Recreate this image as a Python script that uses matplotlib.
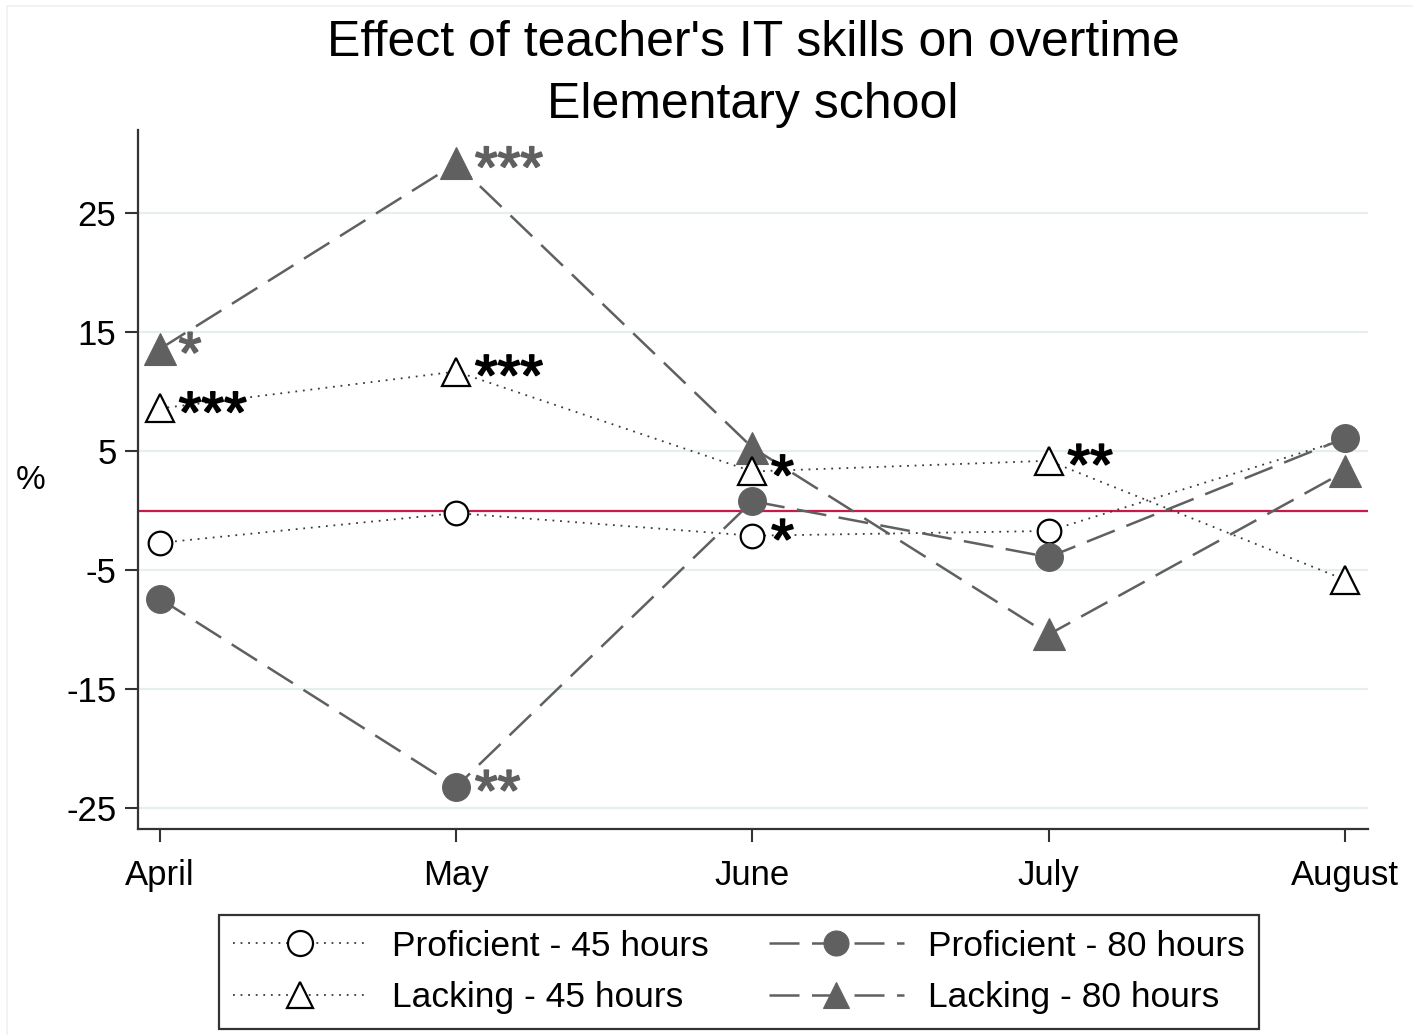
import matplotlib
matplotlib.use("Agg")
import matplotlib.pyplot as plt
from matplotlib.lines import Line2D
import matplotlib.patheffects as pe

plt.rcParams['font.family'] = ['Liberation Sans', 'DejaVu Sans']

months = ["April", "May", "June", "July", "August"]
prof_45 = [-2.7, -0.2, -2.1, -1.7, 6.0]
lack_45 = [8.6, 11.7, 3.3, 4.2, -5.8]
prof_80 = [-7.4, -23.2, 0.8, -3.9, 6.1]
lack_80 = [13.6, 29.2, 5.3, -10.4, 3.3]

stars_prof_45 = ["", "", "*", "", ""]
stars_lack_45 = ["***", "***", "*", "**", ""]
stars_prof_80 = ["", "**", "", "", ""]
stars_lack_80 = ["*", "***", "", "", ""]

yticks = [25, 15, 5, -5, -15, -25]
title_line1 = "Effect of teacher's IT skills on overtime"
title_line2 = "Elementary school"

GRAY = "#606060"
W, H = 1413, 1035
fig = plt.figure(figsize=(W / 100, H / 100), dpi=100)

# faint outer graph-region border
fig.add_artist(Line2D([7 / W, 7 / W], [0, 1 - 6 / H], transform=fig.transFigure,
                      color="#f0f0f0", lw=1.2))
fig.add_artist(Line2D([7 / W, 1], [1 - 6 / H, 1 - 6 / H], transform=fig.transFigure,
                      color="#f0f0f0", lw=1.2))

ax = fig.add_axes([138 / W, 1 - 829 / H, (1368 - 138) / W, (829 - 130) / H])

x = list(range(len(months)))

for yv in yticks:
    ax.axhline(yv, color="#e6eef0", lw=1.6, zorder=0)
ax.axhline(0, color="#c8194b", lw=1.6, zorder=1)

dot = (0, (1, 3.2))
dash = (0, (12, 5))
l1, = ax.plot(x, prof_45, linestyle=dot, color="#3a3a3a", lw=1.3, marker="o",
              ms=17, mfc="white", mec="black", mew=1.6, zorder=3,
              label="Proficient - 45 hours")
l4, = ax.plot(x, lack_80, linestyle=dash, color=GRAY, lw=1.8, marker="^",
              ms=23, mfc=GRAY, mec=GRAY, mew=0.8, zorder=4,
              label="Lacking - 80 hours")
l3, = ax.plot(x, prof_80, linestyle=dash, color=GRAY, lw=1.8, marker="o",
              ms=20, mfc=GRAY, mec=GRAY, mew=0.8, zorder=5,
              label="Proficient - 80 hours")
l2, = ax.plot(x, lack_45, linestyle=dot, color="#3a3a3a", lw=1.3, marker="^",
              ms=20, mfc="white", mec="black", mew=1.6, zorder=6,
              label="Lacking - 45 hours")

def label_stars(vals, stars, color):
    for xi, (v, s) in enumerate(zip(vals, stars)):
        if s:
            ax.annotate(s, (xi, v), xytext=(13.5, -17), textcoords="offset points",
                        ha="left", va="baseline", fontsize=42,
                        color=color, zorder=7,
                        path_effects=[pe.withStroke(linewidth=1.3, foreground=color)])

label_stars(prof_45, stars_prof_45, "black")
label_stars(lack_45, stars_lack_45, "black")
label_stars(prof_80, stars_prof_80, GRAY)
label_stars(lack_80, stars_lack_80, GRAY)

ax.set_xlim(-0.074, 4.078)
ax.set_ylim(-26.75, 32.0)
ax.set_xticks(x)
ax.set_xticklabels(months)
ax.set_yticks(yticks)
ax.set_yticklabels([str(v) for v in yticks])
for s in ["top", "right"]:
    ax.spines[s].set_visible(False)
for s in ["left", "bottom"]:
    ax.spines[s].set_color("#333333")
    ax.spines[s].set_linewidth(1.6)
ax.tick_params(axis="both", labelsize=25, length=9.5, width=1.5, color="#333333")
ax.tick_params(axis="y", pad=6)
ax.tick_params(axis="x", pad=12)
ax.set_facecolor("white")

fig.text(31 / W, 1 - 481 / H, "%", fontsize=24, ha="center", va="center")
fig.text(753 / W, 1 - 56 / H, title_line1, fontsize=36, ha="center", va="baseline")
fig.text(753 / W, 1 - 118 / H, title_line2, fontsize=36, ha="center", va="baseline")

leg = fig.legend(handles=[l1, l2, l3, l4], loc="center",
                 bbox_to_anchor=(739 / W, 1 - 972 / H), ncol=2, fontsize=25.5,
                 frameon=True, fancybox=False, edgecolor="black",
                 handlelength=3.8, handletextpad=0.7, columnspacing=1.7,
                 labelspacing=0.53, borderpad=0.4, numpoints=1)
leg.get_frame().set_linewidth(1.6)
for h in leg.legend_handles:
    if h.get_marker() == "o":
        h.set_markersize(18)
    else:
        h.set_markersize(19)

fig.savefig("out.png", dpi=100)
